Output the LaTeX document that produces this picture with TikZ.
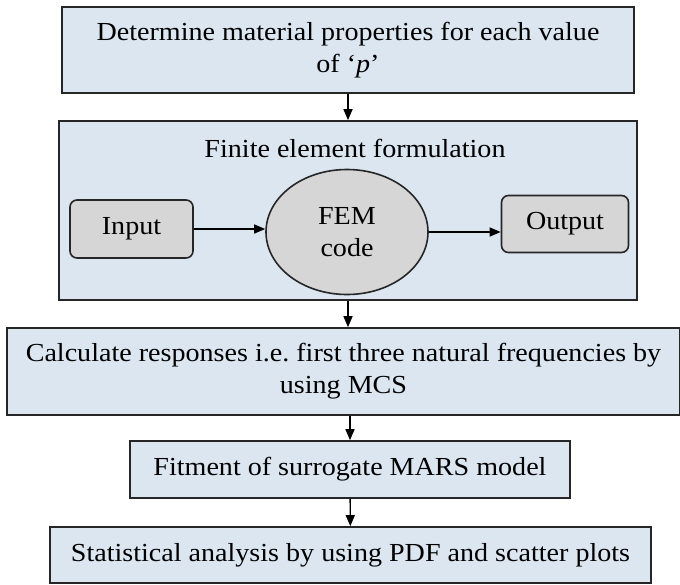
\documentclass[tikz,border=0pt]{standalone}
\usepackage{fontspec}
\setmainfont[FakeStretch=1.08]{Liberation Serif}
\usepackage{tikz}
\usetikzlibrary{shapes.geometric, arrows.meta, positioning}
\definecolor{boxblue}{HTML}{DCE6F1}
\definecolor{boxgray}{HTML}{D6D6D6}
\definecolor{edge}{HTML}{262626}
\tikzstyle{stepbox} = [rectangle, draw=edge, line width=1.6pt, fill=boxblue, align=center, inner sep=2pt]
\tikzstyle{iobox} = [rectangle, rounded corners=7pt, draw=edge, line width=1.6pt, fill=boxgray, align=center]
\tikzstyle{fembox} = [ellipse, draw=edge, line width=1.6pt, fill=boxgray, align=center, inner sep=0pt]
\tikzstyle{arrow} = [line width=1.4pt, -{Triangle[length=11pt, width=9pt]}]

\begin{document}
\begin{tikzpicture}[x=1pt, y=-1pt, font=\fontsize{26}{32}\selectfont]
\useasboundingbox (0,0) rectangle (680,584);
\node (props) [stepbox, minimum width=572pt, minimum height=86pt] at (348,50) {Determine material properties for each value\\of `\textit{p}'};
\node (fef) [stepbox, minimum width=578pt, minimum height=179pt] at (348,210.5) {};
\node (feftitle) at (355,148) {Finite element formulation};
\node (input) [iobox, minimum width=123pt, minimum height=58pt] at (131.5,229) {Input};
\node (fem) [fembox, minimum width=162pt, minimum height=125pt] at (347,232) {FEM\\code};
\node (output) [iobox, minimum width=127pt, minimum height=57pt] at (565,224) {Output};
\node (mcs) [stepbox, minimum width=673pt, minimum height=87pt] at (343.5,371.5) {Calculate responses i.e.\ first three natural frequencies by\\using MCS};
\node (mars) [stepbox, minimum width=440pt, minimum height=57pt] at (350,469.5) {Fitment of surrogate MARS model};
\node (stats) [stepbox, minimum width=601pt, minimum height=56pt] at (350.5,555) {Statistical analysis by using PDF and scatter plots};
\draw [arrow] (props) -- (fef);
\draw [arrow] (input) -- (input -| fem.west);
\draw [arrow] (fem.east) -- (fem.east -| output.west);
\draw [arrow] (fef.south) -- (fef.south |- mcs.north);
\draw [arrow] (mcs.south -| mars.north) -- (mars.north);
\draw [arrow] (mars) -- (stats);
\end{tikzpicture}
\end{document}
